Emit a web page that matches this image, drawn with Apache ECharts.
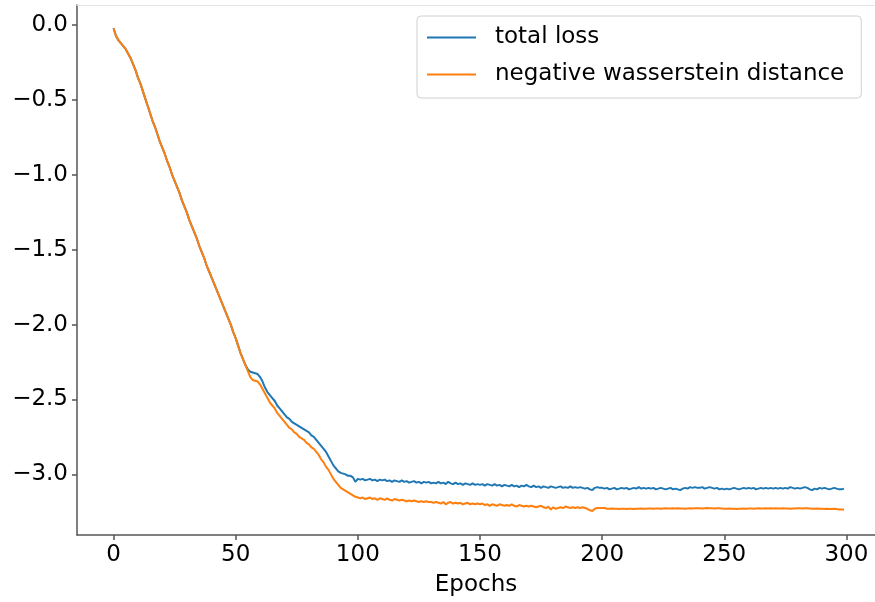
<!DOCTYPE html>
<html>
<head>
<meta charset="utf-8">
<script src="https://cdn.jsdelivr.net/npm/echarts@6/dist/echarts.min.js"></script>
<style>
  html, body { margin: 0; padding: 0; background: #ffffff; }
  #chart { width: 875px; height: 602px; }
</style>
</head>
<body>
<div id="chart"></div>
<script>
// ---- data ----
const seriesNames = ['total loss', 'negative wasserstein distance'];
const xTickValues = [0, 50, 100, 150, 200, 250, 300];
const yTickValues = [0, -0.5, -1.0, -1.5, -2.0, -2.5, -3.0];
const xLabel = 'Epochs';

// epochs 0-54: both curves coincide
const sharedHead = [
  -0.02, -0.07, -0.10, -0.12, -0.14, -0.16, -0.19, -0.22, -0.26, -0.30,
  -0.35, -0.39, -0.44, -0.49, -0.54, -0.59, -0.64, -0.68, -0.73, -0.78,
  -0.82, -0.86, -0.91, -0.95, -1.00, -1.04, -1.08, -1.12, -1.17, -1.21,
  -1.25, -1.30, -1.34, -1.38, -1.42, -1.47, -1.51, -1.55, -1.60, -1.64,
  -1.68, -1.72, -1.76, -1.80, -1.84, -1.88, -1.92, -1.96, -2.00, -2.05,
  -2.09, -2.14, -2.19, -2.23, -2.27
];

// epochs 55-299
const totalLossTail = [
  -2.30, -2.315, -2.32, -2.325, -2.33,
  -2.35, -2.38, -2.42, -2.45, -2.47, -2.49, -2.51, -2.54, -2.56, -2.58,
  -2.60, -2.62, -2.63, -2.65, -2.66, -2.67, -2.68, -2.69, -2.70, -2.71,
  -2.72, -2.74, -2.75, -2.77, -2.79, -2.81, -2.83, -2.85, -2.88, -2.91,
  -2.94, -2.96, -2.98, -2.99, -2.995, -3.00, -3.01, -3.01, -3.02, -3.05,
  -3.03, -3.035, -3.03, -3.04, -3.035, -3.03, -3.04, -3.035, -3.045, -3.035,
  -3.04, -3.035, -3.045, -3.04, -3.05, -3.04, -3.045, -3.05, -3.04, -3.05,
  -3.045, -3.055, -3.05, -3.045, -3.055, -3.05, -3.06, -3.05, -3.055, -3.05,
  -3.06, -3.055, -3.06, -3.05, -3.06, -3.055, -3.065, -3.05, -3.06, -3.065,
  -3.055, -3.065, -3.06, -3.07, -3.06, -3.065, -3.07, -3.06, -3.07, -3.065,
  -3.07, -3.065, -3.075, -3.065, -3.07, -3.075, -3.065, -3.075, -3.07, -3.08,
  -3.07, -3.075, -3.08, -3.07, -3.08, -3.075, -3.085, -3.075, -3.08, -3.07,
  -3.08, -3.085, -3.075, -3.085, -3.08, -3.09, -3.08, -3.085, -3.09, -3.08,
  -3.085, -3.09, -3.085, -3.08, -3.09, -3.085, -3.09, -3.08, -3.09, -3.085,
  -3.09, -3.085, -3.09, -3.095, -3.09, -3.10, -3.105, -3.09, -3.085, -3.09,
  -3.09, -3.095, -3.09, -3.10, -3.095, -3.09, -3.10, -3.095, -3.09, -3.095,
  -3.09, -3.10, -3.095, -3.09, -3.095, -3.085, -3.095, -3.09, -3.095, -3.09,
  -3.095, -3.09, -3.10, -3.095, -3.09, -3.095, -3.10, -3.095, -3.09, -3.10,
  -3.095, -3.10, -3.105, -3.095, -3.09, -3.095, -3.085, -3.09, -3.085, -3.09,
  -3.09, -3.085, -3.095, -3.09, -3.085, -3.09, -3.095, -3.09, -3.10, -3.095,
  -3.10, -3.095, -3.10, -3.095, -3.09, -3.095, -3.10, -3.095, -3.09, -3.095,
  -3.09, -3.095, -3.09, -3.10, -3.095, -3.09, -3.095, -3.09, -3.095, -3.09,
  -3.095, -3.09, -3.095, -3.09, -3.095, -3.09, -3.095, -3.085, -3.09, -3.095,
  -3.09, -3.095, -3.09, -3.085, -3.09, -3.10, -3.105, -3.095, -3.10, -3.09,
  -3.095, -3.09, -3.095, -3.10, -3.095, -3.09, -3.095, -3.10, -3.10, -3.095
];

const negWassersteinTail = [
  -2.31, -2.35, -2.37, -2.375, -2.38,
  -2.40, -2.43, -2.46, -2.49, -2.52, -2.54, -2.56, -2.59, -2.61, -2.63,
  -2.65, -2.67, -2.69, -2.70, -2.72, -2.73, -2.75, -2.76, -2.77, -2.79,
  -2.80, -2.82, -2.83, -2.85, -2.87, -2.90, -2.92, -2.95, -2.97, -3.00,
  -3.03, -3.05, -3.07, -3.09, -3.10, -3.11, -3.12, -3.13, -3.14, -3.15,
  -3.155, -3.16, -3.155, -3.165, -3.16, -3.155, -3.165, -3.16, -3.17, -3.16,
  -3.165, -3.17, -3.16, -3.17, -3.175, -3.165, -3.17, -3.175, -3.17, -3.175,
  -3.18, -3.175, -3.18, -3.175, -3.18, -3.185, -3.18, -3.185, -3.18, -3.185,
  -3.185, -3.19, -3.185, -3.19, -3.195, -3.185, -3.20, -3.19, -3.185, -3.195,
  -3.19, -3.195, -3.19, -3.20, -3.195, -3.19, -3.20, -3.195, -3.20, -3.195,
  -3.20, -3.195, -3.205, -3.20, -3.21, -3.20, -3.205, -3.21, -3.20, -3.205,
  -3.21, -3.205, -3.21, -3.20, -3.21, -3.215, -3.205, -3.21, -3.215, -3.21,
  -3.215, -3.21, -3.215, -3.22, -3.215, -3.21, -3.22, -3.225, -3.215, -3.235,
  -3.22, -3.23, -3.225, -3.22, -3.225, -3.215, -3.22, -3.225, -3.22, -3.225,
  -3.22, -3.225, -3.22, -3.225, -3.23, -3.24, -3.245, -3.23, -3.225, -3.225,
  -3.225, -3.225, -3.23, -3.23, -3.228, -3.23, -3.23, -3.232, -3.23, -3.23,
  -3.232, -3.23, -3.23, -3.232, -3.23, -3.23, -3.228, -3.23, -3.23, -3.228,
  -3.228, -3.23, -3.228, -3.228, -3.23, -3.228, -3.226, -3.228, -3.228, -3.226,
  -3.228, -3.226, -3.228, -3.228, -3.23, -3.228, -3.226, -3.228, -3.226, -3.226,
  -3.226, -3.228, -3.226, -3.224, -3.226, -3.226, -3.228, -3.226, -3.226, -3.228,
  -3.23, -3.23, -3.228, -3.23, -3.23, -3.232, -3.23, -3.23, -3.228, -3.23,
  -3.228, -3.228, -3.23, -3.228, -3.226, -3.228, -3.228, -3.226, -3.228, -3.226,
  -3.228, -3.226, -3.228, -3.228, -3.226, -3.228, -3.228, -3.23, -3.228, -3.228,
  -3.226, -3.226, -3.228, -3.226, -3.226, -3.228, -3.23, -3.23, -3.228, -3.23,
  -3.23, -3.232, -3.23, -3.232, -3.232, -3.23, -3.232, -3.234, -3.234, -3.234
];

const totalLoss = sharedHead.concat(totalLossTail);
const negWasserstein = sharedHead.concat(negWassersteinTail);

const toPairs = arr => arr.map((v, i) => [i, v]);

// ---- chart ----
const FONT = 'DejaVu Sans';
const FS = 23;
const chart = echarts.init(document.getElementById('chart'), null, { renderer: 'canvas' });

const fmtY = v => {
  const s = Math.abs(v) < 1e-9 ? '0.0' : v.toFixed(1);
  return s.replace('-', '\u2212');
};

const lineIcon = 'path://M0,0L0.01,0L0.01,0.01L0,0.01ZM0,9L49,9L49,11L0,11ZM0,19.99L0.01,19.99L0.01,20L0,20Z';

chart.setOption({
  animation: false,
  backgroundColor: '#ffffff',
  grid: { left: 77, right: 0, top: 5, bottom: 64, containLabel: false },
  legend: {
    data: seriesNames.map(n => ({ name: n, icon: lineIcon })),
    orient: 'vertical',
    left: 417,
    top: 16,
    padding: [10, 17, 12, 10],
    itemWidth: 49,
    itemHeight: 20,
    itemGap: 14,
    backgroundColor: 'rgba(255,255,255,0.8)',
    borderColor: '#d0d0d0',
    borderWidth: 1,
    borderRadius: 4,
    textStyle: { fontFamily: FONT, fontSize: FS, color: '#000', padding: [0, 0, 0, 14] }
  },
  xAxis: [{
    type: 'value',
    min: -14.95,
    max: 311.7,
    name: xLabel,
    nameLocation: 'middle',
    nameGap: 39,
    nameTextStyle: { fontFamily: FONT, fontSize: FS, color: '#000' },
    axisLine: { onZero: false, lineStyle: { color: '#555', width: 1.5 } },
    axisTick: { show: true, inside: false, length: 5, customValues: xTickValues, lineStyle: { color: '#555', width: 1.5 } },
    axisLabel: { customValues: xTickValues, fontFamily: FONT, fontSize: FS, color: '#000', margin: 9 },
    splitLine: { show: false }
  }, {
    type: 'value',
    position: 'top',
    min: -14.95,
    max: 311.7,
    axisLine: { show: true, onZero: false, lineStyle: { color: '#e4e4e4', width: 1 } },
    axisTick: { show: false },
    axisLabel: { show: false },
    splitLine: { show: false }
  }],
  yAxis: {
    type: 'value',
    min: -3.405,
    max: 0.135,
    axisLine: { show: true, onZero: false, lineStyle: { color: '#555', width: 1.5 } },
    axisTick: { show: true, inside: false, length: 5, customValues: yTickValues, lineStyle: { color: '#555', width: 1.5 } },
    axisLabel: { customValues: yTickValues, formatter: fmtY, fontFamily: FONT, fontSize: FS, color: '#000', margin: 9 },
    splitLine: { show: false }
  },
  series: [{
    name: seriesNames[0],
    type: 'line',
    data: toPairs(totalLoss),
    symbol: 'none',
    color: '#1f77b4',
    lineStyle: { width: 2, color: '#1f77b4' }
  }, {
    name: seriesNames[1],
    type: 'line',
    data: toPairs(negWasserstein),
    symbol: 'none',
    color: '#ff7f0e',
    lineStyle: { width: 2, color: '#ff7f0e' }
  }]
});
</script>
</body>
</html>
